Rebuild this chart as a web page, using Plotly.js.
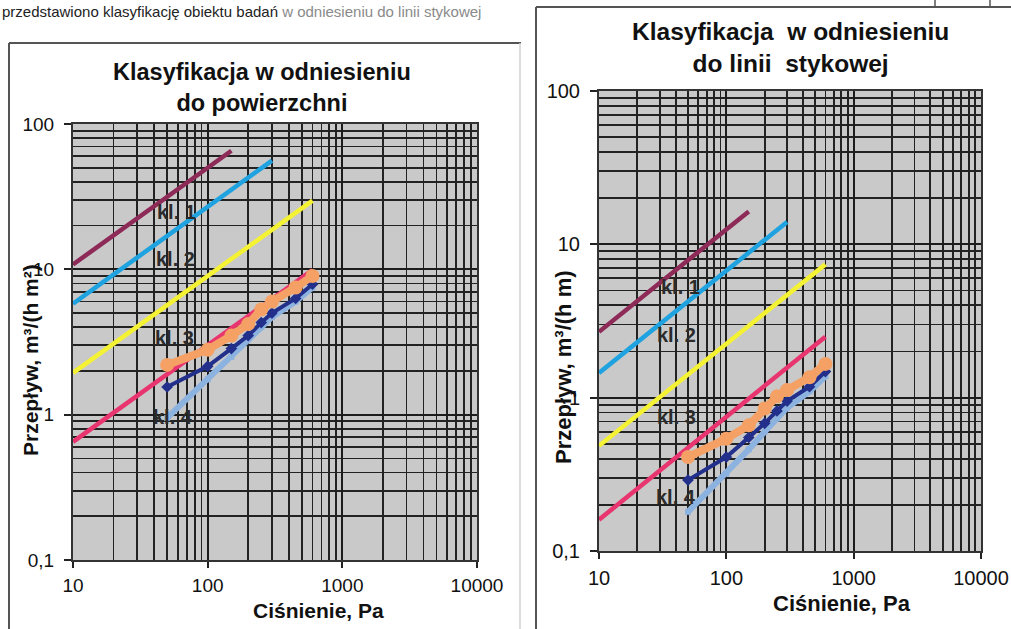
<!DOCTYPE html>
<html>
<head>
<meta charset="utf-8">
<script src="https://cdn.plot.ly/plotly-3.0.1.min.js"></script>
<style>html,body{margin:0;padding:0;background:#fff;}#chart{width:1011px;height:629px;}</style>
</head>
<body>
<div id="chart"></div>
<script>
// ---------- DATA ----------
const classLabels = ['kl. 1', 'kl. 2', 'kl. 3', 'kl. 4'];
// class limit lines (pressure Pa -> flow)
const classX = [[10, 150], [10, 300], [10, 600], [10, 600]];
const classYArea = [[10.8, 65.5], [5.8, 56], [1.94, 29.7], [0.65, 9.9]];
const classYJoint = [[2.69, 16.4], [1.45, 14.0], [0.485, 7.4], [0.16, 2.5]];
// measured series
const pressure = [50, 100, 150, 200, 250, 300, 450, 600];
const areaOrange = [2.2, 2.8, 3.5, 4.2, 5.3, 6.0, 7.5, 9.0];
const areaDark = [1.55, 2.15, 2.85, 3.5, 4.3, 5.0, 6.3, 7.9];
const areaLight = [0.95, 1.75, 2.5, 3.3, 4.0, 4.7, 6.0, 7.5];
const jointOrange = [0.41, 0.54, 0.66, 0.85, 1.02, 1.12, 1.36, 1.66];
const jointDark = [0.29, 0.41, 0.55, 0.68, 0.82, 0.95, 1.18, 1.48];
const jointLight = [0.18, 0.32, 0.46, 0.6, 0.73, 0.86, 1.1, 1.38];
// ticks
const xTickVals = [10, 100, 1000, 10000];
const xTickText = ['10', '100', '1000', '10000'];
const yTickVals = [0.1, 1, 10, 100];
const yTickText = ['0,1', '1', '10', '100'];
const titleArea = 'Klasyfikacja w odniesieniu<br>do powierzchni';
const titleJoint = 'Klasyfikacja  w odniesieniu<br>do linii  stykowej';
const xTitle = 'Ciśnienie, Pa';
const yTitleArea = 'Przepływ, m³/(h m²)';
const yTitleJoint = 'Przepływ, m³/(h m)';
const topText = 'przedstawiono klasyfikację obiektu badań <span style="color:#8a8a8a">w odniesieniu do linii stykowej</span>';

// ---------- STYLE ----------
const W = 1011, H = 629;
const px = v => v / W;
const py = v => 1 - v / H;
const classColors = ['#8e2a57', '#1ea2e0', '#f4f232', '#e8346f'];
const FONT = 'Liberation Sans, Arial, sans-serif';

function minorVals(lo, hi) {
  const out = [];
  for (let e = lo; e < hi; e++) {
    for (let d = 2; d <= 9; d++) out.push(d * Math.pow(10, e));
  }
  return out;
}

const traces = [];
function addChart(xa, ya, classY, orange, dark, light) {
  for (let i = 0; i < classLabels.length; i++) {
    traces.push({x: classX[i], y: classY[i], xaxis: xa, yaxis: ya, mode: 'lines',
      line: {color: classColors[i], width: 4.5}, name: classLabels[i], hoverinfo: 'skip'});
  }
  traces.push({x: pressure, y: light, xaxis: xa, yaxis: ya, mode: 'lines+markers',
    line: {color: '#8cb2e0', width: 6}, marker: {color: '#8cb2e0', size: 6, symbol: 'square'}});
  traces.push({x: pressure, y: dark, xaxis: xa, yaxis: ya, mode: 'lines+markers',
    line: {color: '#22308c', width: 4}, marker: {color: '#22308c', size: 9, symbol: 'diamond'}});
  traces.push({x: pressure, y: orange, xaxis: xa, yaxis: ya, mode: 'lines+markers',
    line: {color: '#f5a064', width: 8}, marker: {color: '#f5a064', size: 14, symbol: 'circle'}});
}
addChart('x', 'y', classYArea, areaOrange, areaDark, areaLight);
addChart('x2', 'y2', classYJoint, jointOrange, jointDark, jointLight);

function xAxis(domain, anchor, fs, standoff) {
  return {
    type: 'log', range: [1, 4], domain: domain, anchor: anchor,
    tickmode: 'array', tickvals: xTickVals, ticktext: xTickText,
    tickfont: {family: FONT, size: fs, color: '#111'},
    ticks: 'outside', ticklen: 6, tickcolor: '#222', tickwidth: 2, ticklabelstandoff: standoff,
    showgrid: true, gridcolor: '#1c1c1c', gridwidth: 2,
    minor: {tickmode: 'array', tickvals: minorVals(1, 4), showgrid: true, gridcolor: '#222', gridwidth: 1.8, ticks: ''},
    showline: true, linecolor: '#333', linewidth: 2, mirror: true, zeroline: false, fixedrange: true
  };
}
function yAxis(domain, anchor, fs) {
  return {
    type: 'log', range: [-1, 2], domain: domain, anchor: anchor,
    tickmode: 'array', tickvals: yTickVals, ticktext: yTickText,
    tickfont: {family: FONT, size: fs, color: '#111'},
    ticks: 'outside', ticklen: 7, tickcolor: '#222', tickwidth: 2, ticklabelstandoff: 6,
    showgrid: true, gridcolor: '#1c1c1c', gridwidth: 2,
    minor: {tickmode: 'array', tickvals: minorVals(-1, 2), showgrid: true, gridcolor: '#222', gridwidth: 1.8, ticks: ''},
    showline: true, linecolor: '#333', linewidth: 2, mirror: true, zeroline: false, fixedrange: true
  };
}

const ann = (text, x, y, opts) => Object.assign({
  text: text, x: px(x), y: py(y), xref: 'paper', yref: 'paper', showarrow: false,
  xanchor: 'center', yanchor: 'middle',
  font: {family: FONT, size: 20, color: '#111', weight: 'bold'}
}, opts || {});

const labelFont = {family: FONT, size: 20, color: '#2b2b2b', weight: 'bold'};
const annotations = [
  ann(titleArea, 262, 88, {font: {family: FONT, size: 23.5, color: '#111', weight: 'bold'}}),
  ann(titleJoint, 790, 48, {font: {family: FONT, size: 24.5, color: '#111', weight: 'bold'}}),
  ann(xTitle, 318, 610, {font: {family: FONT, size: 21, color: '#111', weight: 'bold'}}),
  ann(xTitle, 842, 603, {font: {family: FONT, size: 22, color: '#111', weight: 'bold'}}),
  ann(yTitleArea, 30, 360, {textangle: -90, font: {family: FONT, size: 21, color: '#111', weight: 'bold'}}),
  ann(yTitleJoint, 563, 367, {textangle: -90, font: {family: FONT, size: 22, color: '#111', weight: 'bold'}}),
  ann(classLabels[0], 176, 212, {font: labelFont}),
  ann(classLabels[1], 175, 259, {font: labelFont}),
  ann(classLabels[2], 174, 338, {font: labelFont}),
  ann(classLabels[3], 173, 417, {font: labelFont}),
  ann(classLabels[0], 680, 287, {font: labelFont}),
  ann(classLabels[1], 676, 335, {font: labelFont}),
  ann(classLabels[2], 676, 417, {font: labelFont}),
  ann(classLabels[3], 676, 497, {font: labelFont}),
  ann(topText, 0, 1, {xanchor: 'left', yanchor: 'top', font: {family: FONT, size: 15, color: '#222'}})
];

const line = (x0, y0, x1, y1, color, width) => ({
  type: 'line', xref: 'paper', yref: 'paper', x0: px(x0), y0: py(y0), x1: px(x1), y1: py(y1),
  line: {color: color, width: width}
});
const shapes = [
  line(9, 43, 521, 43, '#555', 2),
  line(9, 43, 9, 629, '#555', 2),
  line(520, 43, 520, 629, '#d0d0d0', 1.5),
  line(536, 7, 1011, 7, '#555', 2),
  line(536, 7, 536, 629, '#555', 2),
  line(935, 0, 935, 7, '#555', 1.5),
  line(990, 0, 990, 7, '#555', 1.5)
];

const layout = {
  width: W, height: H,
  margin: {l: 0, r: 0, t: 0, b: 0},
  paper_bgcolor: '#ffffff', plot_bgcolor: '#c9c9c9',
  showlegend: false,
  separators: ',.',
  xaxis: xAxis([73 / W, 477 / W], 'y', 19, 1),
  yaxis: yAxis([1 - 560 / H, 1 - 124 / H], 'x', 19),
  xaxis2: xAxis([599 / W, 981 / W], 'y2', 20, 2),
  yaxis2: yAxis([1 - 551 / H, 1 - 91 / H], 'x2', 20),
  annotations: annotations,
  shapes: shapes
};

Plotly.newPlot('chart', traces, layout, {displayModeBar: false, staticPlot: true});
</script>
</body>
</html>
